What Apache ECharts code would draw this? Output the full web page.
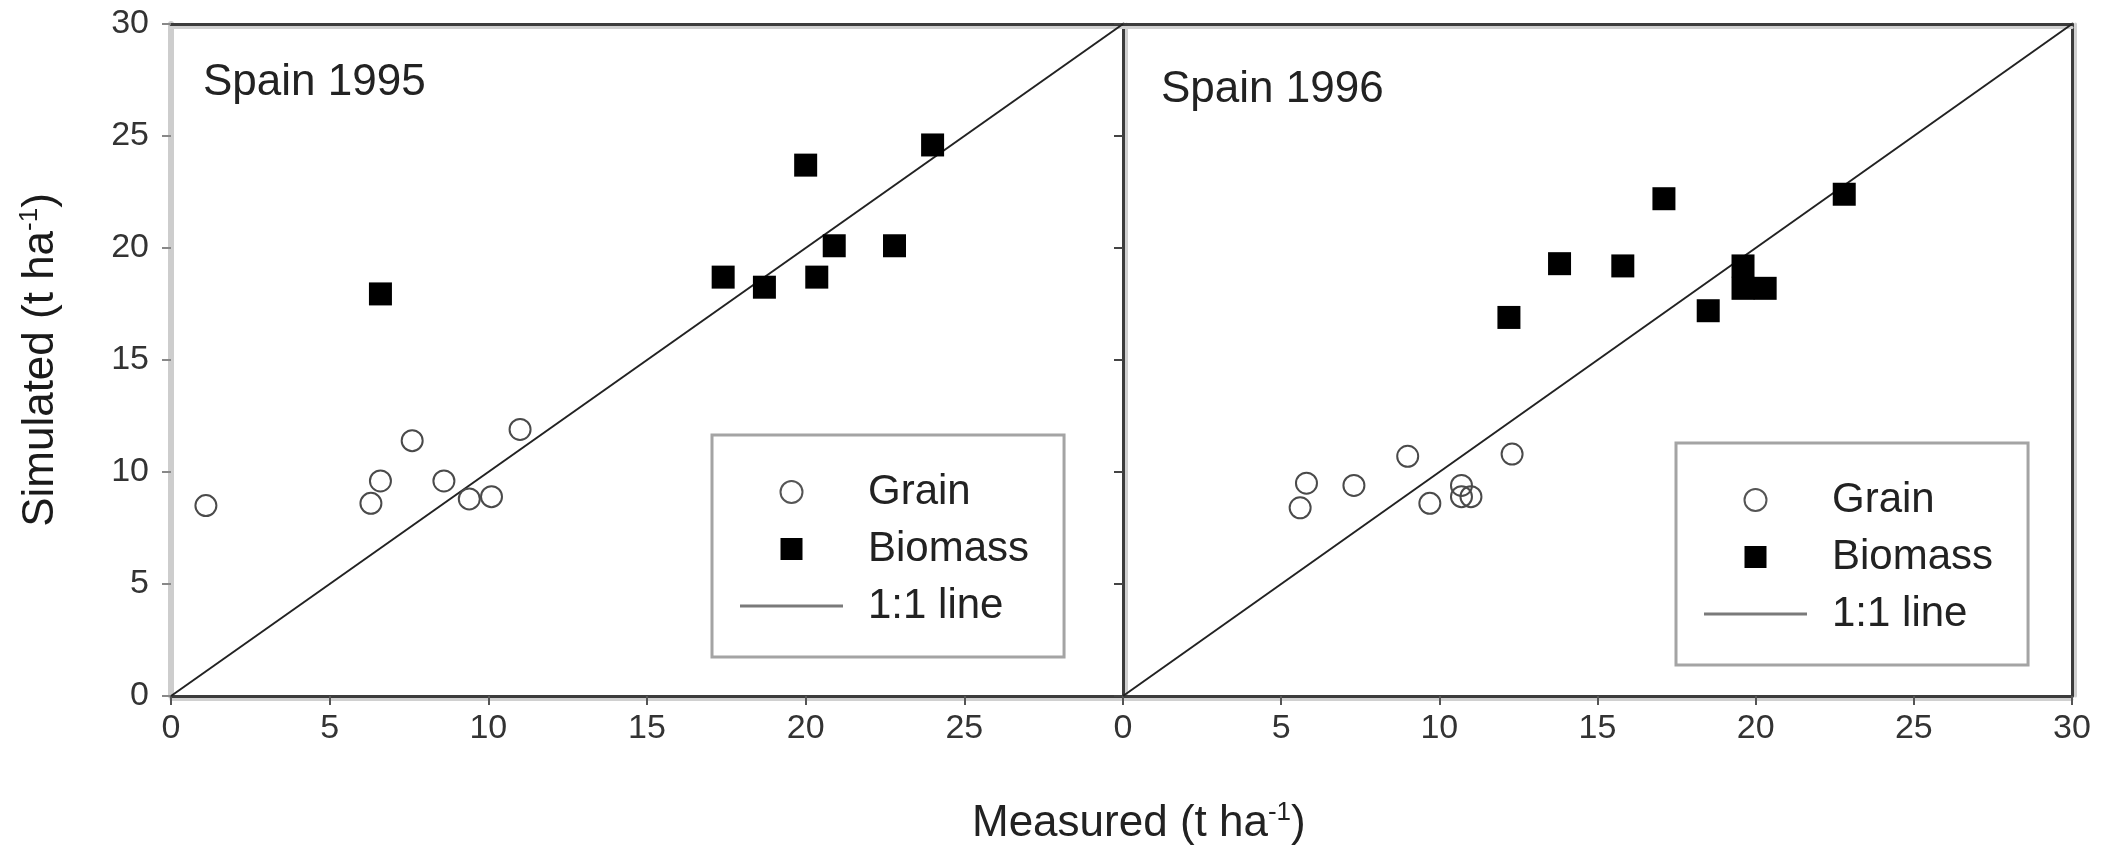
<!DOCTYPE html>
<html>
<head>
<meta charset="utf-8">
<title>Spain 1995 / 1996 simulated vs measured</title>
<script src="https://cdn.jsdelivr.net/npm/echarts@6/dist/echarts.min.js"></script>
<style>
  html, body { margin: 0; padding: 0; background: #fff; }
  #chart { width: 2114px; height: 852px; }
</style>
</head>
<body>
<div id="chart"></div>
<script>
// values (t/ha)
const grain95X = [1.1, 6.3, 6.6, 7.6, 8.6, 9.4, 10.1, 11.0];
const grain95Y = [8.5, 8.6, 9.6, 11.4, 9.6, 8.8, 8.9, 11.9];
const biomass95X = [6.6, 17.4, 18.7, 20.0, 20.35, 20.9, 22.8, 24.0];
const biomass95Y = [17.95, 18.7, 18.25, 23.7, 18.7, 20.1, 20.1, 24.6];

const grain96X = [5.6, 5.8, 7.3, 9.0, 9.7, 10.7, 10.7, 11.0, 12.3];
const grain96Y = [8.4, 9.5, 9.4, 10.7, 8.6, 9.4, 8.9, 8.9, 10.8];
const biomass96X = [12.2, 13.8, 15.8, 17.1, 18.5, 19.6, 19.6, 20.3, 22.8];
const biomass96Y = [16.9, 19.3, 19.2, 22.2, 17.2, 19.2, 18.2, 18.2, 22.4];

const oneToOne = [0, 30];
const panelTitles = ['Spain 1995', 'Spain 1996'];
const legendNames = ['Grain', 'Biomass', '1:1 line'];

const FONT = '"Liberation Sans", Arial, sans-serif';
const pairs = (xs, ys) => xs.map((x, i) => [x, ys[i]]);

const darkLine = (dx, dy) => ({
    color: '#3c3c3c', width: 3,
    shadowColor: '#d0d0d0', shadowOffsetX: dx, shadowOffsetY: dy, shadowBlur: 0
});

const valueAxis = {
    type: 'value', min: 0, max: 30, interval: 5,
    splitLine: { show: false }
};

const chart = echarts.init(document.getElementById('chart'));

const legendBox = (left, top) => ({
    orient: 'vertical',
    left: left, top: top,
    padding: [36, 35, 30, 28],
    itemWidth: 103, itemHeight: 22, itemGap: 15,
    borderColor: '#a4a4a4', borderWidth: 3,
    backgroundColor: '#fff',
    selectedMode: false,
    textStyle: { fontFamily: FONT, fontSize: 42, color: '#222', lineHeight: 40, padding: [0, 0, 0, 20] },
    data: [
        { name: legendNames[0], icon: 'circle', itemStyle: { color: '#fff', borderColor: '#555', borderWidth: 2, opacity: 1 } },
        { name: legendNames[1], icon: 'path://M0,0L10,0L10,10L0,10Z', itemStyle: { color: '#000', opacity: 1 } },
        { name: legendNames[2], icon: 'path://M0,0L103,0L103,3L0,3Z', itemStyle: { color: '#7a7a7a', opacity: 1 } }
    ]
});

const grainStyle = { color: 'rgba(255,255,255,0)', borderColor: '#4a4a4a', borderWidth: 2, opacity: 1 };

const option = {
    animation: false,
    textStyle: { fontFamily: FONT },
    title: [
        { text: panelTitles[0], left: 203, top: 61, padding: 0,
          textStyle: { fontSize: 44, fontWeight: 'normal', color: '#222', fontFamily: FONT } },
        { text: panelTitles[1], left: 1161, top: 68, padding: 0,
          textStyle: { fontSize: 44, fontWeight: 'normal', color: '#222', fontFamily: FONT } },
        { text: '{a|Measured (t ha}{s|-1}{a|)}', left: 972, top: 800, padding: 0,
          textStyle: { fontWeight: 'normal', rich: {
              a: { fontSize: 44, fontWeight: 'normal', color: '#222', fontFamily: FONT, lineHeight: 48 },
              s: { fontSize: 26, fontWeight: 'normal', color: '#222', fontFamily: FONT, verticalAlign: 'top', lineHeight: 26 }
          } } }
    ],
    legend: [legendBox(712, 435), legendBox(1676, 443)],
    grid: [
        { left: 171, right: 991, top: 24, bottom: 156 },
        { left: 1123, right: 42, top: 24, bottom: 156 }
    ],
    xAxis: [
        Object.assign({}, valueAxis, {
            gridIndex: 0, position: 'bottom',
            axisLine: { onZero: false, lineStyle: darkLine(0, 3) },
            axisTick: { length: 9, lineStyle: { color: '#555', width: 2 } },
            axisLabel: { fontSize: 34, color: '#333', margin: 16, showMaxLabel: false }
        }),
        Object.assign({}, valueAxis, {
            gridIndex: 0, position: 'top',
            axisLine: { onZero: false, lineStyle: darkLine(0, 3) },
            axisTick: { show: false }, axisLabel: { show: false }
        }),
        Object.assign({}, valueAxis, {
            gridIndex: 1, position: 'bottom',
            axisLine: { onZero: false, lineStyle: darkLine(0, 3) },
            axisTick: { length: 9, lineStyle: { color: '#555', width: 2 } },
            axisLabel: { fontSize: 34, color: '#333', margin: 16 }
        }),
        Object.assign({}, valueAxis, {
            gridIndex: 1, position: 'top',
            axisLine: { onZero: false, lineStyle: darkLine(0, 3) },
            axisTick: { show: false }, axisLabel: { show: false }
        })
    ],
    yAxis: [
        Object.assign({}, valueAxis, {
            gridIndex: 0, position: 'left',
            axisLine: { onZero: false, lineStyle: { color: '#cdcdcd', width: 6 } },
            axisTick: { length: 9, lineStyle: { color: '#888', width: 2 } },
            axisLabel: { fontSize: 34, color: '#333', margin: 22 },
            name: '{a|Simulated (t ha}{s|-1}{a|)}',
            nameLocation: 'middle', nameRotate: 90, nameGap: 106,
            nameTextStyle: { rich: {
                a: { fontSize: 44, color: '#1a1a1a', fontFamily: FONT, lineHeight: 48 },
                s: { fontSize: 26, color: '#1a1a1a', fontFamily: FONT, verticalAlign: 'top', lineHeight: 26 }
            } }
        }),
        Object.assign({}, valueAxis, {
            gridIndex: 1, position: 'left',
            axisLine: { onZero: false, lineStyle: darkLine(3, 0) },
            axisTick: { length: 9, lineStyle: { color: '#444', width: 2 } },
            axisLabel: { show: false }
        }),
        Object.assign({}, valueAxis, {
            gridIndex: 1, position: 'right',
            axisLine: { onZero: false, lineStyle: darkLine(3, 0) },
            axisTick: { show: false }, axisLabel: { show: false }
        })
    ],
    series: [
        { name: legendNames[2], type: 'line', xAxisIndex: 0, yAxisIndex: 0, z: 1,
          data: pairs(oneToOne, oneToOne), symbol: 'none',
          lineStyle: { color: '#222', width: 2 } },
        { name: legendNames[0], type: 'scatter', xAxisIndex: 0, yAxisIndex: 0, z: 3,
          data: pairs(grain95X, grain95Y), symbol: 'circle', symbolSize: 21, itemStyle: grainStyle },
        { name: legendNames[1], type: 'scatter', xAxisIndex: 0, yAxisIndex: 0, z: 3,
          data: pairs(biomass95X, biomass95Y), symbol: 'rect', symbolSize: 23, itemStyle: { color: '#000', opacity: 1 } },

        { name: legendNames[2], type: 'line', xAxisIndex: 2, yAxisIndex: 1, z: 1,
          data: pairs(oneToOne, oneToOne), symbol: 'none',
          lineStyle: { color: '#222', width: 2 } },
        { name: legendNames[0], type: 'scatter', xAxisIndex: 2, yAxisIndex: 1, z: 3,
          data: pairs(grain96X, grain96Y), symbol: 'circle', symbolSize: 21, itemStyle: grainStyle },
        { name: legendNames[1], type: 'scatter', xAxisIndex: 2, yAxisIndex: 1, z: 3,
          data: pairs(biomass96X, biomass96Y), symbol: 'rect', symbolSize: 23, itemStyle: { color: '#000', opacity: 1 } }
    ]
};

chart.setOption(option);
</script>
</body>
</html>
